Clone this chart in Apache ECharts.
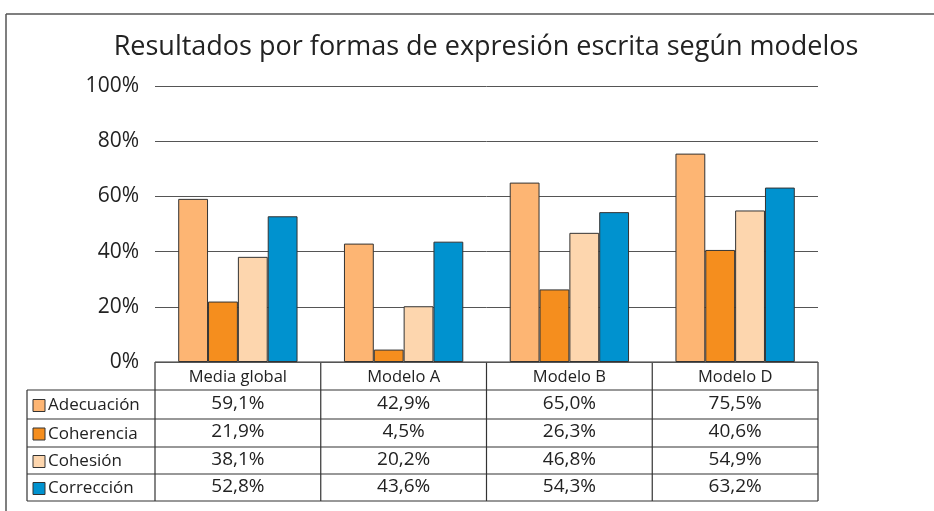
<!DOCTYPE html>
<html>
<head>
    <meta charset="utf-8">
    <title>Resultados por formas de expresión escrita</title>
    <script src="https://cdn.jsdelivr.net/npm/echarts@6/dist/echarts.min.js"></script>
</head>
<style>
    body { margin:0; background:#fff; }
    #main { width:934px; height:511px; }
</style>
<body>
<div id="main"></div>
<script type="text/javascript">
    // datos
    var modelos = ['Media global', 'Modelo A', 'Modelo B', 'Modelo D'];
    var formas = ['Adecuación', 'Coherencia', 'Cohesión', 'Corrección'];
    var adecuacion = [59.1, 42.9, 65.0, 75.5];
    var coherencia = [21.9, 4.5, 26.3, 40.6];
    var cohesion = [38.1, 20.2, 46.8, 54.9];
    var correccion = [52.8, 43.6, 54.3, 63.2];
    var yTicks = [0, 20, 40, 60, 80, 100];

    var valores = [adecuacion, coherencia, cohesion, correccion];
    var colores = ['#FDB573', '#F58E1E', '#FDD6AE', '#0092CF'];
    var fuente = 'Open Sans';

    // medidas del area y de la tabla
    var gLeft = 155, gRight = 818, gTop = 86, gBottom = 362;
    var tLeft = 27;
    var filas = [362, 390, 419, 447, 474, 501];

    var myChart = echarts.init(document.getElementById('main'));

    var graphic = [];
    var linea = '#333';
    // marco exterior
    graphic.push({ type:'line', shape:{x1:6, y1:14, x2:934, y2:14}, style:{stroke:'#555', lineWidth:1.5} });
    graphic.push({ type:'line', shape:{x1:6, y1:14, x2:6, y2:511}, style:{stroke:'#555', lineWidth:1.5} });

    // lineas horizontales de la tabla
    for (var r = 0; r < filas.length; r++) {
        graphic.push({ type:'line', shape:{x1:(r == 0 ? gLeft : tLeft), y1:filas[r], x2:gRight, y2:filas[r]}, style:{stroke:linea, lineWidth:1.2} });
    }
    // lineas verticales
    var colW = (gRight - gLeft) / modelos.length;
    for (var c = 0; c <= modelos.length; c++) {
        graphic.push({ type:'line', shape:{x1:gLeft + c*colW, y1:filas[0], x2:gLeft + c*colW, y2:filas[5]}, style:{stroke:linea, lineWidth:1.2} });
    }
    graphic.push({ type:'line', shape:{x1:tLeft, y1:filas[1], x2:tLeft, y2:filas[5]}, style:{stroke:linea, lineWidth:1.2} });

    // cabecera
    for (var c = 0; c < modelos.length; c++) {
        graphic.push({ type:'text', x:gLeft + (c+0.5)*colW, y:(filas[0]+filas[1])/2 + 1,
            style:{text:modelos[c], font:'16.5px "' + fuente + '"', fill:'#222', align:'center', verticalAlign:'middle'} });
    }
    // filas de datos con leyenda
    for (var r = 0; r < formas.length; r++) {
        var yc = (filas[r+1] + filas[r+2]) / 2;
        graphic.push({ type:'rect', shape:{x:33, y:yc - 5, width:12, height:12},
            style:{fill:colores[r], stroke:'#333', lineWidth:1} });
        graphic.push({ type:'text', x:48, y:yc + 1,
            style:{text:formas[r], font:'17px "' + fuente + '"', fill:'#222', align:'left', verticalAlign:'middle'} });
        for (var c = 0; c < modelos.length; c++) {
            graphic.push({ type:'text', x:gLeft + (c+0.5)*colW, y:yc - 1,
                style:{text:valores[r][c].toFixed(1).replace('.', ',') + '%', font:'19px "' + fuente + '"', fill:'#222', align:'center', verticalAlign:'middle'} });
        }
    }

    var series = [];
    for (var i = 0; i < formas.length; i++) {
        series.push({
            name: formas[i],
            type: 'bar',
            data: valores[i],
            barGap: '0%',
            barCategoryGap: '28%',
            itemStyle: { color: colores[i], borderColor: '#333', borderWidth: 1 }
        });
    }

    var option = {
        animation: false,
        backgroundColor: '#fff',
        title: {
            text: 'Resultados por formas de expresión escrita según modelos',
            left: 481, top: 29, textAlign: 'center',
            textStyle: { fontFamily: fuente, fontSize: 27, fontWeight: 'normal', color: '#222' }
        },
        grid: { left: gLeft, right: 934 - gRight, top: gTop, bottom: 511 - gBottom },
        xAxis: {
            type: 'category',
            data: modelos,
            axisLine: { show: false },
            axisTick: { show: false },
            axisLabel: { show: false }
        },
        yAxis: {
            type: 'value',
            min: yTicks[0],
            max: yTicks[yTicks.length - 1],
            interval: 20,
            axisLine: { show: false },
            axisTick: { show: false },
            axisLabel: { formatter: '{value}%', fontFamily: fuente, fontSize: 21, color: '#222', margin: 16 },
            splitLine: { lineStyle: { color: '#555', width: 1 } }
        },
        series: series,
        graphic: graphic
    };
    myChart.setOption(option);
</script>
</body>
</html>
